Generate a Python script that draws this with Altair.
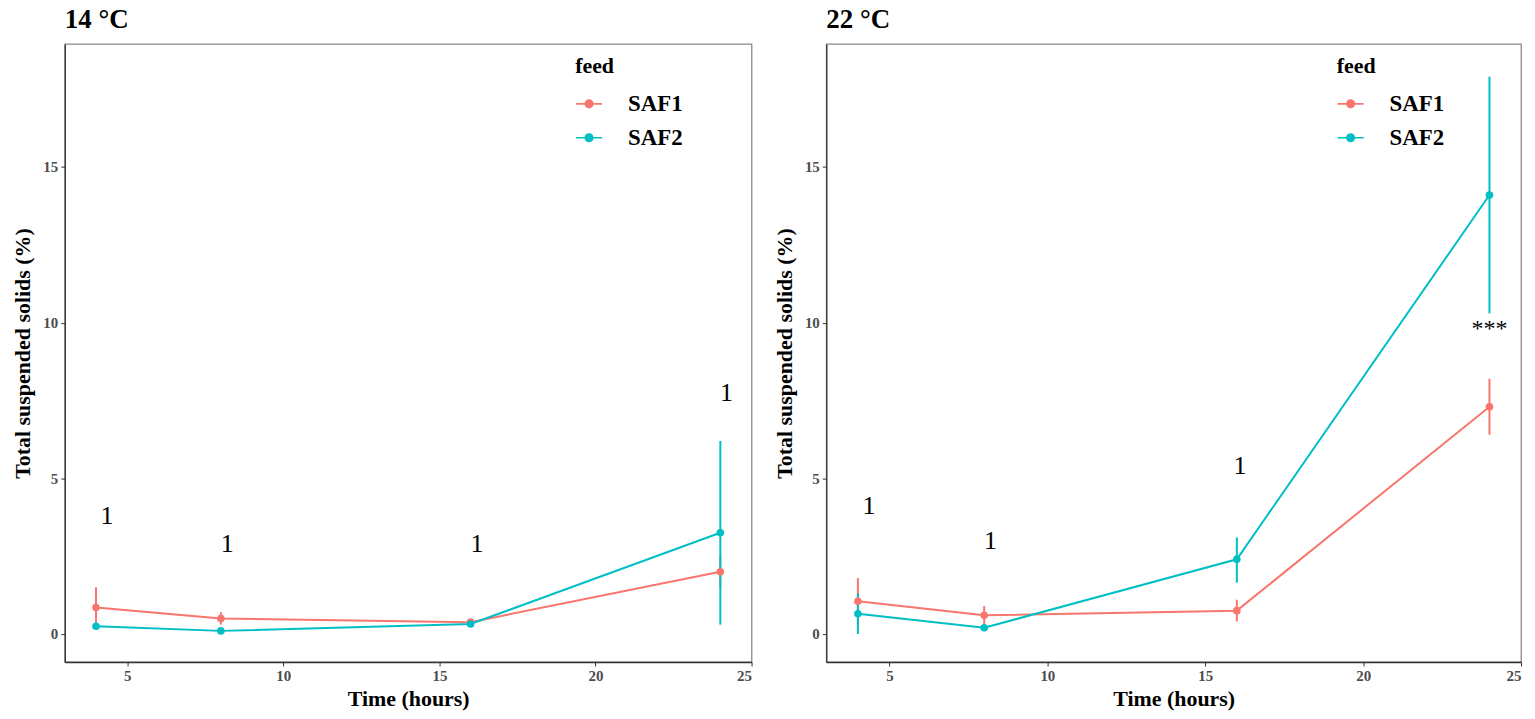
import altair as alt
import pandas as pd

# Sampling times (hours) and feed names
hours = [4, 8, 16, 24]
feeds = ["SAF1", "SAF2"]
colors = ["#F8766D", "#00BFC4"]

# 14 °C: mean total suspended solids (%) with error bar limits
saf1_14 = [0.85, 0.50, 0.38, 2.00]
saf1_14_lo = [0.20, 0.30, 0.28, 1.50]
saf1_14_hi = [1.50, 0.70, 0.48, 2.50]
saf2_14 = [0.25, 0.10, 0.32, 3.25]
saf2_14_lo = [0.20, 0.05, 0.27, 0.30]
saf2_14_hi = [0.30, 0.15, 0.37, 6.20]

# 22 °C
saf1_22 = [1.05, 0.60, 0.75, 7.30]
saf1_22_lo = [0.30, 0.30, 0.40, 6.40]
saf1_22_hi = [1.80, 0.90, 1.10, 8.20]
saf2_22 = [0.65, 0.20, 2.40, 14.10]
saf2_22_lo = [0.00, 0.15, 1.65, 10.30]
saf2_22_hi = [1.30, 0.25, 3.10, 17.90]

# Significance labels (position in data units and text)
sig_14_x = [4.35, 8.2, 16.2, 24.2]
sig_14_y = [3.8, 2.9, 2.9, 7.75]
sig_14_lab = ["1", "1", "1", "1"]
sig_22_x = [4.35, 8.2, 16.1, 24.0]
sig_22_y = [4.1, 3.0, 5.4, 9.8]
sig_22_lab = ["1", "1", "1", "***"]

SERIF = "Liberation Serif"
X_DOMAIN = [3, 25]
Y_DOMAIN = [-0.9, 18.95]

# legend key: short line with a dot in the middle
KEY_PATH = ("M-1,0L1,0M0.29,0A0.29,0.29,0,1,1,-0.29,0"
            "A0.29,0.29,0,1,1,0.29,0Z")


def series_frame(s1, s1lo, s1hi, s2, s2lo, s2hi):
    rows = []
    for feed, m, lo, hi in ((feeds[0], s1, s1lo, s1hi), (feeds[1], s2, s2lo, s2hi)):
        for t, v, a, b in zip(hours, m, lo, hi):
            rows.append({"hours": t, "feed": feed, "tss": v, "lo": a, "hi": b})
    return pd.DataFrame(rows)


def panel(title, df, sx, sy, slab, width):
    yscale = alt.Scale(domain=Y_DOMAIN, nice=False, zero=False)
    x = alt.X("hours:Q", title="Time (hours)",
              scale=alt.Scale(domain=X_DOMAIN, nice=False, zero=False),
              axis=alt.Axis(values=[5, 10, 15, 20, 25], titlePadding=5))
    y = alt.Y("tss:Q", title="Total suspended solids (%)", scale=yscale,
              axis=alt.Axis(values=[0, 5, 10, 15], titlePadding=8))
    legend = alt.Legend(
        title="feed", orient="none", legendX=512, legendY=12,
        symbolType=KEY_PATH, symbolSize=676, symbolStrokeWidth=1.6,
        titleFont=SERIF, titleFontSize=22, titleFontWeight="bold", titleColor="black",
        labelFont=SERIF, labelFontSize=23, labelFontWeight="bold", labelColor="black",
        labelOffset=25, rowPadding=8, titlePadding=12,
    )
    color = alt.Color("feed:N", scale=alt.Scale(domain=feeds, range=colors), legend=legend)

    base = alt.Chart(df)
    bars = base.mark_rule(strokeWidth=2).encode(
        x=x, y=alt.Y("lo:Q", scale=yscale), y2="hi:Q", color=color,
    )
    lines = base.mark_line(strokeWidth=2).encode(x=x, y=y, color=color)
    points = base.mark_point(filled=True, size=58, opacity=1).encode(x=x, y=y, color=color)

    sig = pd.DataFrame({"hours": sx, "tss": sy, "label": slab})
    text = alt.Chart(sig).mark_text(font=SERIF, baseline="middle", color="black").encode(
        x=x, y=y, text="label:N",
        size=alt.condition(alt.datum.label == "***", alt.value(24), alt.value(26)),
    )
    return alt.layer(bars, lines, points, text).properties(
        width=width, height=620,
        title=alt.TitleParams(title, anchor="start", frame="group", font=SERIF,
                              fontSize=27, fontWeight="bold", color="black", offset=10),
    )


left = panel("14 °C", series_frame(saf1_14, saf1_14_lo, saf1_14_hi,
                                   saf2_14, saf2_14_lo, saf2_14_hi),
             sig_14_x, sig_14_y, sig_14_lab, 689)
right = panel("22 °C", series_frame(saf1_22, saf1_22_lo, saf1_22_hi,
                                    saf2_22, saf2_22_lo, saf2_22_hi),
              sig_22_x, sig_22_y, sig_22_lab, 697)

chart = alt.hconcat(left, right, spacing=19).resolve_scale(
    color="independent"
).resolve_legend(color="independent").properties(
    padding={"left": 11, "top": 4, "right": 12, "bottom": 4}
).configure_view(
    stroke="#8a8a8a", strokeWidth=1.3
).configure_axis(
    grid=False, domainColor="#333333", domainWidth=1.3,
    tickColor="#333333", tickSize=4, labelPadding=3,
    labelFont=SERIF, labelFontSize=15, labelFontWeight="bold", labelColor="#4d4d4d",
    titleFont=SERIF, titleFontSize=22, titleFontWeight="bold", titleColor="black",
)

chart.save("out.html", embed_options={"renderer": "svg", "actions": False})
